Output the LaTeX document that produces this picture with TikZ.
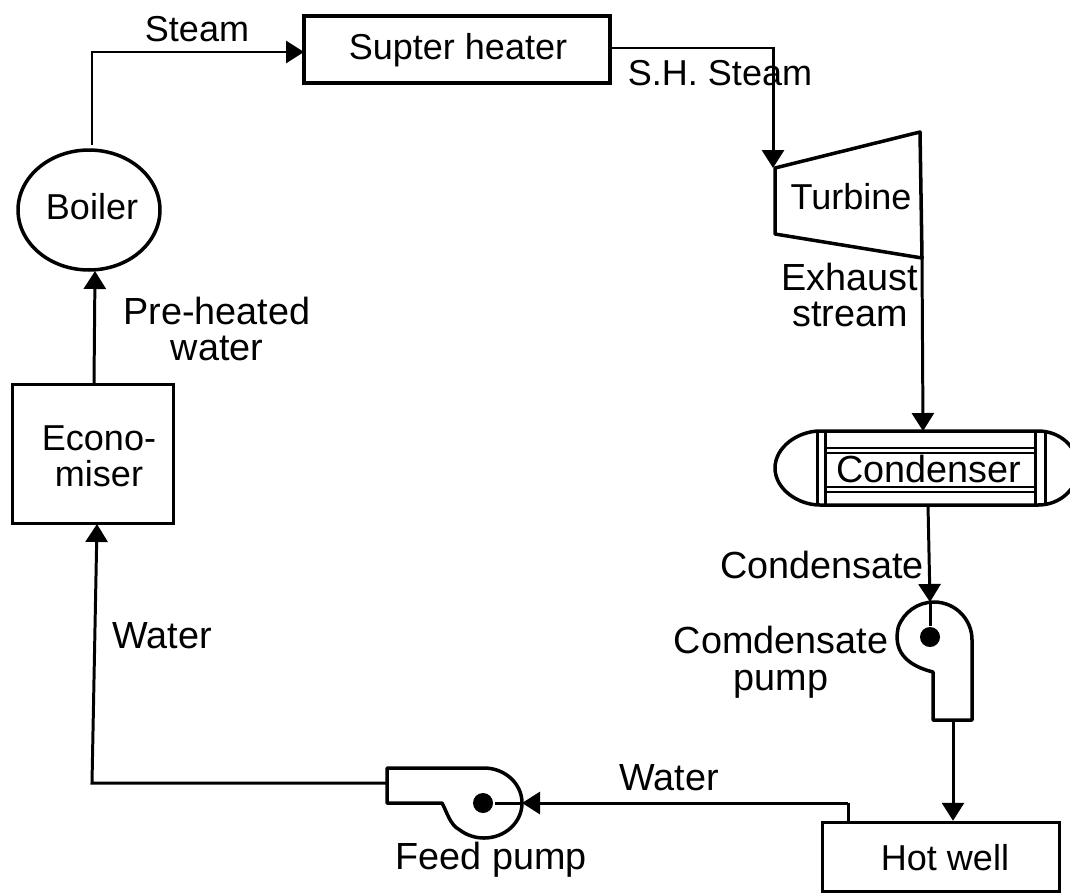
\documentclass[tikz,border=0pt]{standalone}
\usepackage{fontspec}
\setmainfont{Liberation Sans}
\usetikzlibrary{arrows.meta,shapes.geometric}

\begin{document}
\begin{tikzpicture}[
					x = 0.02cm,
					y = -0.02cm,
					line width = 1.7pt,
					every node/.style = {
						font = \fontsize{20.5}{20.5}\selectfont,
						align = center,
						inner sep = 0pt,
					},
					unit/.style = {
						shape = rectangle,
						draw,
						line width = 2pt,
					},
					shaft/.style = {
						shape = circle,
						fill,
						minimum size = 0.4cm,
					},
					flow/.style = {
						-{Triangle[length = 0.36cm, width = 0.44cm]},
					},
					wide/.style = {
						font = \fontsize{21.5}{21}\selectfont,
					},
			]
				\useasboundingbox (0, 0) rectangle (1070, 893);

				\draw (457, 49.5) node (sheater) [unit, minimum width = 6.12cm, minimum height = 1.34cm] {};
				\draw (458, 50) node (sheatertext) {Supter heater};
				\draw (89, 210) node (boiler) [unit, shape = ellipse, minimum width = 2.84cm, minimum height = 2.4cm] {};
				\draw (92, 207) node (boilertext) {Boiler};
				\draw (93, 454) node (econ) [unit, minimum width = 3.22cm, minimum height = 2.78cm] {};
				\draw (99, 456) node (econtext) {Econo-\\miser};
				\draw (941, 857) node (hotwell) [unit, minimum width = 4.74cm, minimum height = 1.38cm] {};
				\draw (945, 858) node (hotwelltext) {Hot well};

				% turbine
				\coordinate (t1) at (775, 168);
				\coordinate (t2) at (920, 132);
				\coordinate (t3) at (922, 258);
				\coordinate (t4) at (775, 234);
				\draw[line width = 2pt, line join = round] (t1) -- (t2) -- (t3) -- (t4) -- cycle;
				\draw (851, 197) node (turbine) {Turbine};

				% condenser
				\coordinate (c1) at (820, 431);
				\coordinate (c2) at (1038, 431);
				\coordinate (c3) at (1038, 505);
				\coordinate (c4) at (820, 505);
				\coordinate (ctop) at (923, 431);
				\coordinate (cbot) at (928, 505);
				\draw[line width = 2pt] (c1) -- (c2) .. controls (1060, 431) and (1078, 447) .. (1078, 468)
					.. controls (1078, 489) and (1060, 505) .. (c3) -- (c4)
					.. controls (798, 505) and (775, 489) .. (775, 468)
					.. controls (775, 447) and (798, 431) .. (c1) -- cycle;
				\foreach \xa in {817, 825, 1035, 1045}
					\draw (\xa, 431) -- (\xa, 505);
				\foreach \ya in {448, 453, 487, 492}
					\draw[line width = 1.3pt] (825, \ya) -- (1035, \ya);
				\draw (929, 469) node (condenser) [wide] {Condenser};

				% condensate pump
				\draw (930, 637) node (cpshaft) [shaft] {};
				\coordinate (cptop) at (930, 602);
				\coordinate (cpout) at (953, 720);
				\draw[line width = 2pt, line join = round] (972, 720) -- (972, 640)
					arc (0 : 160 : 38 and -38) .. controls (893, 650) and (905, 665) .. (933, 672)
					-- (933, 720) -- cycle;

				% feed pump
				\draw (483, 803) node (fpshaft) [shaft] {};
				\coordinate (fpin) at (522, 803);
				\coordinate (fpout) at (387, 783);
				\coordinate (wtop) at (848, 803);
				\coordinate (wbot) at (848, 822);
				\draw[line width = 2pt, line join = round] (387, 768) -- (484, 768)
					arc (90 : 0 : 38 and -35) arc (0 : -130 : 38 and -35)
					.. controls (450, 825) and (447, 812) .. (442, 803) -- (387, 803) -- cycle;

				% ends that sit off the centre of a box
				\coordinate (bout) at (92, 145);
				\coordinate (bin) at (95, 271);
				\coordinate (eout) at (94, 384);
				\coordinate (ein) at (97, 524);
				\coordinate (ecorner) at (92, 783);
				\coordinate (shin) at (304, 52);
				\coordinate (shout) at (609, 48);
				\coordinate (tcorner) at (773, 48);

				% flows
				\draw[flow] (bout) |- (shin);
				\draw[flow] (shout) -- (tcorner) -- (t1 -| tcorner);
				\draw[flow] (t3) -- (ctop);
				\draw[flow] (cbot) -- (cptop);
				\draw (cptop) -- (cpshaft);
				\draw[flow] (cpout) -- (cpout |- hotwell.north);
				\draw (wbot) -- (wtop);
				\draw[flow] (wtop) -- (fpin);
				\draw (fpin) -- (fpshaft);
				\draw[flow] (fpout) -- (ecorner) -- (ein);
				\draw[flow] (eout) -- (bin);

				% labels
				\draw (197, 29) node (steam) {Steam};
				\draw (720, 73) node (shsteam) {S.H. Steam};
				\draw (850, 295) node (exhaust) [wide] {Exhaust\\stream};
				\draw (822, 565) node (condensate) [wide] {Condensate};
				\draw (781, 662) node (cpump) [wide] {Comdensate\\pump};
				\draw (669, 778) node (water1) [wide] {Water};
				\draw (491, 860) node (fpump) [wide] {Feed pump};
				\draw (162, 636) node (water2) [wide] {Water};
				\draw (217, 329) node (preheat) [wide] {Pre-heated\\water};
			\end{tikzpicture}
\end{document}
